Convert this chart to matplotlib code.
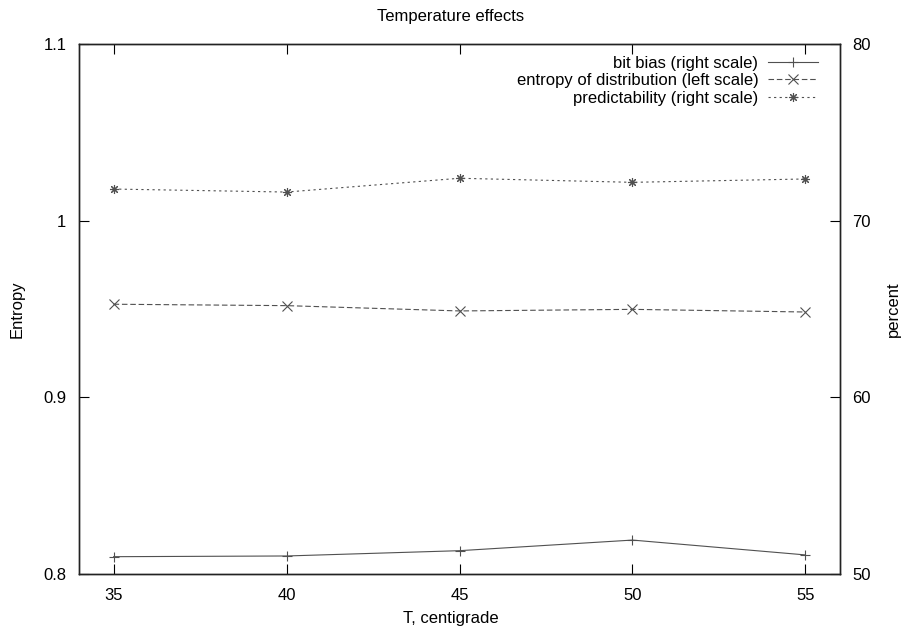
import matplotlib
matplotlib.use("Agg")
import matplotlib.pyplot as plt

plt.rcParams['font.family'] = ['Liberation Sans', 'DejaVu Sans']

temps = [35, 40, 45, 50, 55]
bit_bias = [50.98, 51.02, 51.32, 51.92, 51.08]
entropy = [0.9527, 0.9519, 0.9489, 0.9498, 0.9483]
predictability = [71.79, 71.62, 72.40, 72.17, 72.36]

xticks = [35, 40, 45, 50, 55]
left_ticks = [0.8, 0.9, 1.0, 1.1]
left_ticklabels = ["0.8", "0.9", "1", "1.1"]
right_ticks = [50, 60, 70, 80]

col = '#505050'
fs = 12

fig = plt.figure(figsize=(9.01, 6.32), dpi=100)
ax = fig.add_axes([79/901, 58/632, (840-79)/901, (574-44)/632])
ax2 = ax.twinx()

ax.set_xlim(34, 56)
ax.set_ylim(0.8, 1.1)
ax2.set_ylim(50, 80)

l2, = ax.plot(temps, entropy, color=col, lw=0.8, dashes=(5, 2.5), marker='x', ms=6.5, mew=0.8)
l1, = ax2.plot(temps, bit_bias, color=col, lw=0.8, marker='+', ms=6.5, mew=0.8)
l3, = ax2.plot(temps, predictability, color=col, lw=0.8, dashes=(2, 3), marker=(8, 2, 0), ms=6.5, mew=0.8)

ax.set_xticks(xticks)
ax.set_xticklabels([str(t) for t in xticks])
ax.set_yticks(left_ticks)
ax.set_yticklabels(left_ticklabels)
ax2.set_yticks(right_ticks)

ax.tick_params(axis='x', direction='in', length=7, width=0.8, top=True, labelsize=fs, pad=10)
ax.tick_params(axis='y', direction='in', length=7, width=0.8, labelsize=fs, pad=9)
ax2.tick_params(axis='y', direction='in', length=7, width=0.8, labelsize=fs, pad=9)
for a in (ax, ax2):
    for s in a.spines.values():
        s.set_linewidth(1.0)
        s.set_color('#222222')

fig.text(0.5, 1 - 17/632, "Temperature effects", ha='center', va='center', fontsize=fs)
fig.text(0.5, 1 - 619/632, "T, centigrade", ha='center', va='center', fontsize=fs)
fig.text(17/901, 1 - 309/632, "Entropy", ha='center', va='center', rotation=90, fontsize=fs)
fig.text(893/901, 1 - 309/632, "percent", ha='center', va='center', rotation=90, fontsize=fs)

leg = ax2.legend([l1, l2, l3],
                 ["bit bias (right scale)", "entropy of distribution (left scale)", "predictability (right scale)"],
                 loc='upper right', bbox_to_anchor=(1.0 - 10/761, 1.0), frameon=False, markerfirst=False,
                 fontsize=fs, handlelength=3.0, handletextpad=0.6, labelspacing=0.15,
                 borderaxespad=0.3)

fig.savefig("out.png", dpi=100)
